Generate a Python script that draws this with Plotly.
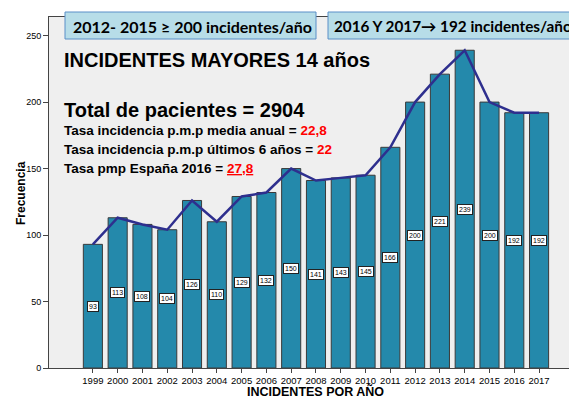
import plotly.graph_objects as go

years = list(range(1999, 2018))
values = [93, 113, 108, 104, 126, 110, 129, 132, 150, 141, 143, 145, 166, 200, 221, 239, 200, 192, 192]
y_ticks = [0, 50, 100, 150, 200, 250]

OFF = 8  # page body margin
W, H = 577 - OFF, 401 - OFF
# plot area in page pixels
L, R, T, B = 49, 577, 17, 368


def px(x):
    return (x - L) / (R - L)


def py(y):
    return (B - y) / (B - T)


fig = go.Figure()
fig.add_trace(go.Bar(
    x=years, y=values, width=0.77,
    marker=dict(color="#2489ab", line=dict(color="#3a3a3a", width=1)),
    hoverinfo="skip", showlegend=False,
))
fig.add_trace(go.Scatter(
    x=years, y=values, mode="lines",
    line=dict(color="#2e2f8e", width=2.5),
    hoverinfo="skip", showlegend=False,
))

annotations = []
for yr, v in zip(years, values):
    annotations.append(dict(
        x=yr, y=v / 2, xref="x", yref="y", text=str(v), showarrow=False,
        font=dict(family="Arial", size=7, color="black"),
        bgcolor="white", bordercolor="#222", borderwidth=1, borderpad=1,
    ))

big = "Liberation Sans, Arial"
annotations += [
    dict(x=px(62), y=py(60), xref="paper", yref="paper", xanchor="left", yanchor="middle",
         text="<b>INCIDENTES MAYORES 14 años</b>", showarrow=False,
         font=dict(family=big, size=20, color="black")),
    dict(x=px(62), y=py(110), xref="paper", yref="paper", xanchor="left", yanchor="middle",
         text="<b>Total de pacientes = 2904</b>", showarrow=False,
         font=dict(family=big, size=20, color="black")),
    dict(x=px(62), y=py(131), xref="paper", yref="paper", xanchor="left", yanchor="middle",
         text="<b>Tasa incidencia p.m.p media anual = <span style='color:#ff0000'>22,8</span></b>",
         showarrow=False, font=dict(family=big, size=13.5, color="black")),
    dict(x=px(62), y=py(150), xref="paper", yref="paper", xanchor="left", yanchor="middle",
         text="<b>Tasa incidencia p.m.p últimos 6 años = <span style='color:#ff0000'>22</span></b>",
         showarrow=False, font=dict(family=big, size=13.5, color="black")),
    dict(x=px(62), y=py(168), xref="paper", yref="paper", xanchor="left", yanchor="middle",
         text="<b>Tasa pmp España 2016 = <span style='color:#ff0000'><u>27,8</u></span></b>",
         showarrow=False, font=dict(family=big, size=13.5, color="black")),
    dict(x=px(71), y=py(26), xref="paper", yref="paper", xanchor="left", yanchor="middle",
         text="<b>2012- 2015 ≥ 200 incidentes/año</b>", showarrow=False,
         font=dict(family="Lato, Open Sans", size=16, color="black")),
    dict(x=px(332), y=py(26), xref="paper", yref="paper", xanchor="left", yanchor="middle",
         text="<b>2016 Y 2017→ 192 incidentes/año</b>", showarrow=False,
         font=dict(family="Lato, Open Sans", size=15.3, color="black")),
    dict(x=px(21), y=py(193), xref="paper", yref="paper", xanchor="center", yanchor="middle",
         text="<b>Frecuencia</b>", textangle=-90, showarrow=False,
         font=dict(family=big, size=12, color="black")),
    dict(x=px(315), y=py(400.5), xref="paper", yref="paper", xanchor="center", yanchor="bottom",
         text="<b>INCIDENTES POR AÑO</b>", showarrow=False,
         font=dict(family=big, size=12.5, color="black")),
]

shapes = [
    dict(type="rect", xref="paper", yref="paper", x0=px(65), x1=px(316), y0=py(39), y1=py(12),
         fillcolor="#b7dde8", line=dict(color="#5b8fc7", width=1), layer="above"),
    dict(type="rect", xref="paper", yref="paper", x0=px(328), x1=px(600), y0=py(39), y1=py(12),
         fillcolor="#b7dde8", line=dict(color="#5b8fc7", width=1), layer="above"),
]

fig.update_layout(
    width=W, height=H,
    margin=dict(l=L - OFF, r=0, t=T - OFF, b=H - (B - OFF)),
    paper_bgcolor="white", plot_bgcolor="#efefef",
    annotations=annotations, shapes=shapes,
    xaxis=dict(range=[1997.23, 2018.53], tickvals=years, ticktext=[str(y) for y in years],
               showgrid=False, zeroline=False, showline=True, mirror=True, linecolor="#444",
               ticks="outside", ticklen=4, tickcolor="#444",
               tickfont=dict(family="Arial", size=9.5, color="black")),
    yaxis=dict(range=[0, 264], tickvals=y_ticks, showgrid=False, zeroline=False,
               showline=True, mirror=False, linecolor="#444",
               ticks="outside", ticklen=5, tickcolor="#444",
               tickfont=dict(family="Arial", size=9, color="black")),
)

fig.write_html("out.html")
